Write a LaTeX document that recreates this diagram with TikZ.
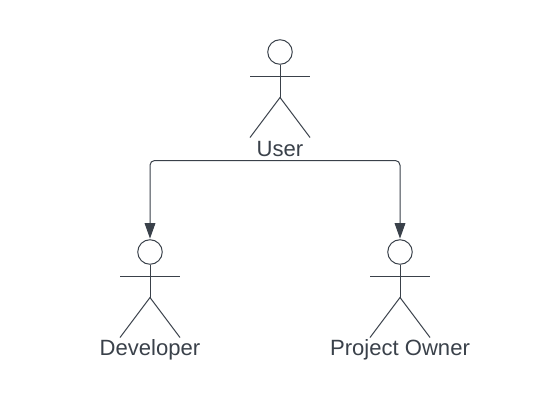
\documentclass[tikz,border=0pt]{standalone}
\usepackage{fontspec}
\setmainfont{Liberation Sans}
\usetikzlibrary{arrows.meta}
\definecolor{ink}{HTML}{3A414A}
\tikzset{
  x=0.75pt,y=-0.75pt,
  limb/.style={draw=ink,line width=0.75pt},
  headshape/.style={circle,draw=ink,fill=white,line width=0.75pt,minimum size=18.4pt,inner sep=0pt},
  actorlabel/.style={text=ink,font=\fontsize{16.55pt}{18pt}\selectfont,inner sep=0pt,anchor=center},
  link/.style={draw=ink,line width=0.75pt,rounded corners=3.5pt,-{Triangle[length=11.5pt,width=8pt,color=ink]},shorten >=0.5pt},
  pics/actor/.style={code={
    \node[headshape] (-head) at (0,0) {};
    \coordinate (-hip) at (0,45.5);
    \draw[limb] (-head.south) -- (-hip);
    \draw[limb] (-30,24.5) -- (30,24.5);
    \draw[limb] (-30,85.5) -- (-hip) -- (30,85.5);
  }}
}
\begin{document}
\begin{tikzpicture}
\useasboundingbox (0,0) rectangle (550,400);
\fill[white] (0,0) rectangle (550,400);
\pic (user) at (280,52) {actor};
\pic (dev) at (150,252) {actor};
\pic (owner) at (400,252) {actor};
\node[actorlabel] (userlabel) at (280,149.5) {User};
\node[actorlabel] (devlabel) at (150,349.5) {Developer};
\node[actorlabel] (ownerlabel) at (400,349.5) {Project Owner};
\coordinate (src) at (280,160.5);
\draw[link] (src) -| (dev-head.north);
\draw[link] (src) -| (owner-head.north);
\draw[draw=ink,line width=1.4pt] (277.5,160.5) -- (282.5,160.5);
\end{tikzpicture}
\end{document}
